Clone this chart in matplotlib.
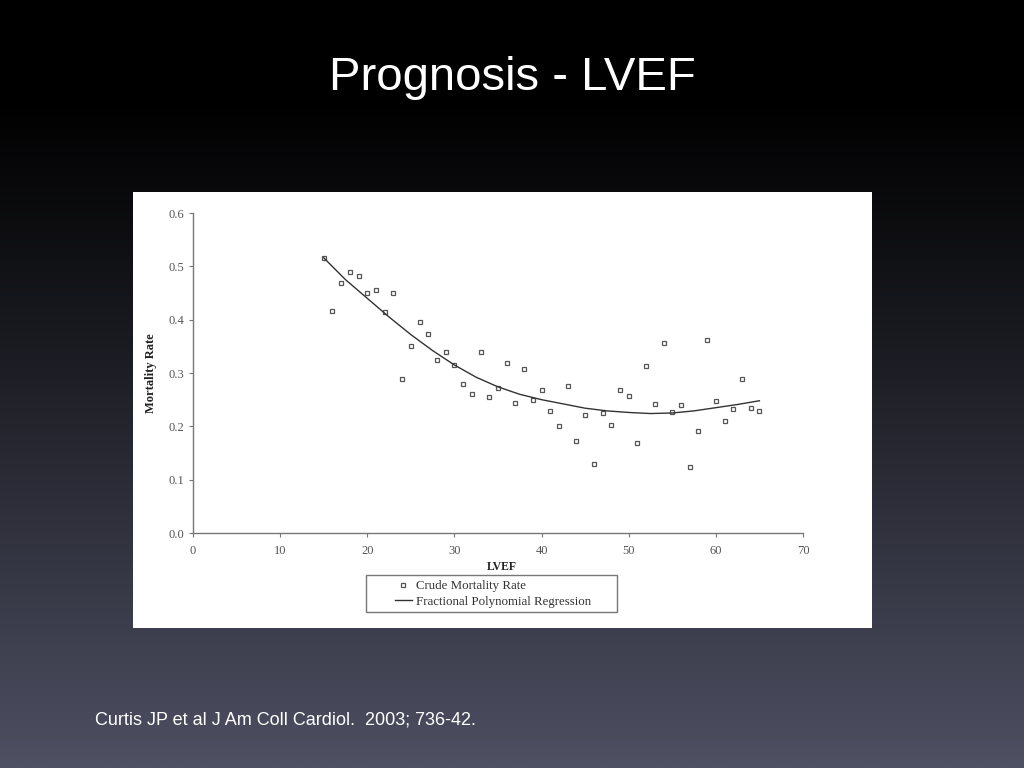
import numpy as np
import matplotlib
matplotlib.use("Agg")
import matplotlib.pyplot as plt
from matplotlib.patches import Rectangle

# ---- data ----
lvef = [15, 16, 17, 18, 19, 20, 21, 22, 23, 24, 25, 26, 27, 28, 29, 30, 31, 32, 33, 34,
        35, 36, 37, 38, 39, 40, 41, 42, 43, 44, 45, 46, 47, 48, 49, 50, 51, 52, 53, 54,
        55, 56, 57, 58, 59, 60, 61, 62, 63, 64, 65]
crude_rate = [0.516, 0.416, 0.469, 0.489, 0.482, 0.450, 0.456, 0.414, 0.450, 0.289,
              0.351, 0.396, 0.373, 0.324, 0.339, 0.315, 0.279, 0.261, 0.339, 0.255,
              0.272, 0.319, 0.244, 0.308, 0.249, 0.269, 0.229, 0.200, 0.276, 0.172,
              0.221, 0.130, 0.225, 0.202, 0.269, 0.256, 0.169, 0.314, 0.242, 0.357,
              0.226, 0.240, 0.124, 0.191, 0.362, 0.248, 0.210, 0.233, 0.289, 0.234, 0.228]
fit_x = [15, 17.5, 20, 22.5, 25, 27.5, 30, 32.5, 35, 37.5, 40, 42.5, 45, 47.5, 50,
         52.5, 55, 57.5, 60, 62.5, 65]
fit_y = [0.516, 0.475, 0.440, 0.405, 0.372, 0.342, 0.315, 0.292, 0.274, 0.260, 0.250,
         0.242, 0.234, 0.229, 0.226, 0.224, 0.225, 0.229, 0.235, 0.241, 0.248]
x_ticks = [0, 10, 20, 30, 40, 50, 60, 70]
y_ticks = [0.0, 0.1, 0.2, 0.3, 0.4, 0.5, 0.6]

W, H = 1024, 768
fig = plt.figure(figsize=(W / 100, H / 100), dpi=100)

# background gradient
bg = fig.add_axes([0, 0, 1, 1], zorder=-10)
t = np.linspace(0, 1, 256)
top = np.array([0.0, 0.0, 0.0])
bot = np.array([0x4e, 0x50, 0x63]) / 255.0
prof = np.clip((t - 0.12) / 0.88, 0, 1) ** 1.1
grad = top[None, :] * (1 - prof[:, None]) + bot[None, :] * prof[:, None]
bg.imshow(grad[:, None, :], aspect="auto", extent=[0, 1, 0, 1], origin="upper")
bg.set_axis_off()

# white panel
fig.patches.append(Rectangle((133 / W, 1 - 628 / H), 739 / W, 436 / H,
                             transform=fig.transFigure, facecolor="white",
                             edgecolor="none", zorder=-5))
# legend frame
fig.patches.append(Rectangle((366 / W, 1 - 612 / H), 251 / W, 37 / H,
                             transform=fig.transFigure, facecolor="none",
                             edgecolor="#777777", linewidth=1.0, zorder=5))

fig.text(0.5, 1 - 78 / H, "Prognosis - LVEF", color="white", fontsize=34,
         family="Liberation Sans", ha="center", va="center")
fig.text(95 / W, 1 - 720 / H, "Curtis JP et al J Am Coll Cardiol.  2003; 736-42.",
         color="white", fontsize=13, family="Liberation Sans", ha="left", va="center")

ax = fig.add_axes([193 / W, 1 - 533 / H, 610 / W, 320 / H])
ax.set_facecolor("none")
ax.plot(lvef, crude_rate, linestyle="none", marker="s", markersize=3.4,
        markerfacecolor="white", markeredgecolor="#555555", markeredgewidth=0.9,
        label="Crude Mortality Rate")
ax.plot(fit_x, fit_y, color="#333333", linewidth=1.0,
        label="Fractional Polynomial Regression")

ax.set_xlim(0, 70)
ax.set_ylim(0, 0.6)
ax.set_xticks(x_ticks)
ax.set_yticks(y_ticks)
ax.set_yticklabels([f"{v:.1f}" for v in y_ticks])
for s in ["top", "right"]:
    ax.spines[s].set_visible(False)
for s in ["left", "bottom"]:
    ax.spines[s].set_color("#777777")
    ax.spines[s].set_linewidth(1.0)
ax.tick_params(direction="out", length=3, width=0.8, colors="#777777",
               labelcolor="#555555", labelsize=9)
ax.tick_params(axis="x", pad=6)
ax.tick_params(axis="y", pad=3)
for lab in ax.get_xticklabels() + ax.get_yticklabels():
    lab.set_family("Liberation Serif")

ax.set_xlabel("LVEF", family="Liberation Serif", fontweight="bold", fontsize=8.5,
              color="#222222")
ax.xaxis.set_label_coords((502 - 193) / 610, (533 - 561) / 320)
ax.set_ylabel("Mortality Rate", family="Liberation Serif", fontweight="bold",
              fontsize=9, color="#222222")
ax.yaxis.set_label_coords((157 - 193) / 610, 0.5)

leg = ax.legend(loc="upper left", bbox_to_anchor=(395 / W, 1 - 580 / H),
                bbox_transform=fig.transFigure, frameon=False,
                prop={"family": "Liberation Serif", "size": 9.3}, handlelength=1.3,
                borderpad=0, labelspacing=0.3, handletextpad=0.3,
                borderaxespad=0)
for txt in leg.get_texts():
    txt.set_color("#333333")

fig.savefig("out.png", dpi=100)
